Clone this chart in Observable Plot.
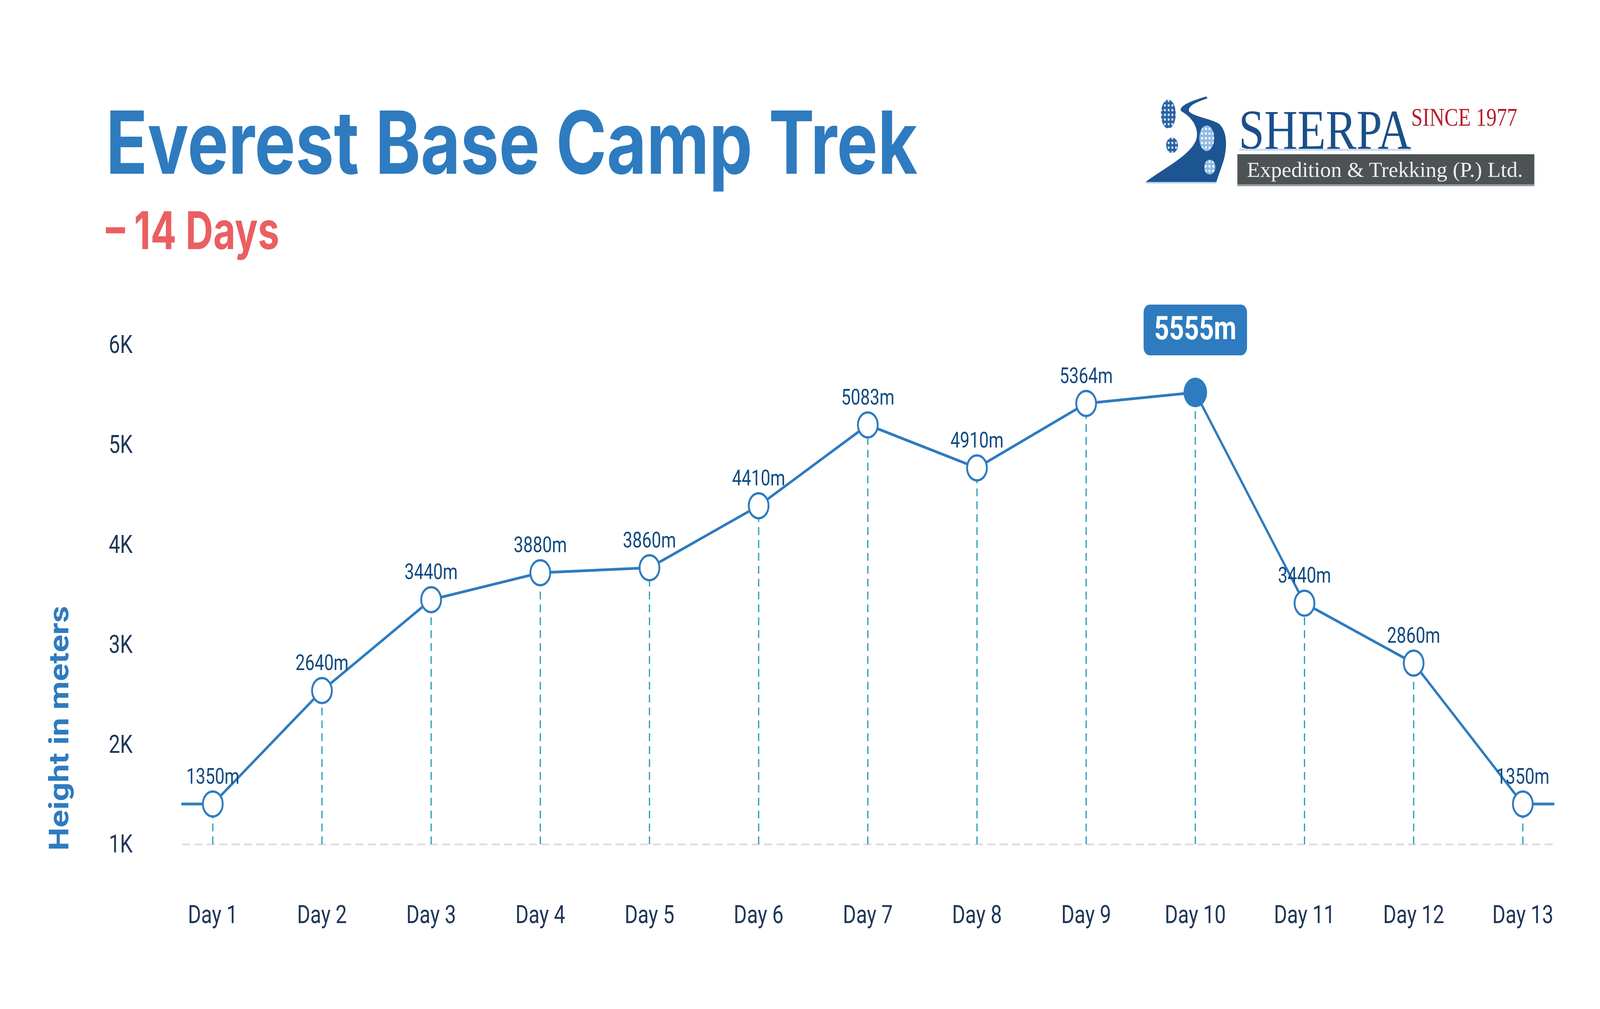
<!DOCTYPE html>
<html>
<head>
<meta charset="utf-8">
<script src="https://cdn.jsdelivr.net/npm/d3@7"></script>
<script src="https://cdn.jsdelivr.net/npm/@observablehq/plot@0.6"></script>
<style>
  html, body { margin: 0; padding: 0; background: #ffffff; overflow: hidden; }
  #page { width: 5167px; height: 2584px; position: relative; background: #ffffff; overflow: hidden; transform-origin: 0 0; }
  #header { display: block; }
  #chart svg { display: block; }
</style>
</head>
<body>
<div id="page">
  <svg id="header" width="5167" height="700" xmlns="http://www.w3.org/2000/svg">
    <defs>
      <pattern id="dotsLight" width="12" height="12" patternUnits="userSpaceOnUse">
        <rect width="12" height="12" fill="#2c63a3"/>
        <circle cx="6" cy="6" r="3.2" fill="#d6e6f6"/>
      </pattern>
      <pattern id="dotsRoad" width="12" height="12" patternUnits="userSpaceOnUse">
        <rect width="12" height="12" fill="#8fbbe6"/>
        <circle cx="6" cy="6" r="3.2" fill="#ffffff"/>
      </pattern>
    </defs>
    <text x="342" y="445" font-family="Inter, Roboto, sans-serif" font-weight="700" font-size="223" fill="#2e7bbf" textLength="2621" lengthAdjust="spacingAndGlyphs">Everest Base Camp Trek</text>
    <text x="342" y="638" font-family="Inter, Roboto, sans-serif" font-weight="700" font-size="133" fill="#ea5f62" textLength="560" lengthAdjust="spacingAndGlyphs">– 14 Days</text>
    <g id="logo">
      <rect x="3700" y="466" width="228" height="4" fill="#b9d3ee"/>
      <path d="M3700,466 C3760,430 3840,400 3862,360 C3875,330 3850,300 3815,285 C3805,275 3830,262 3896,247 L3899,252 C3860,262 3835,272 3840,285 C3852,298 3900,302 3935,316 C3966,336 3962,380 3952,410 L3928,466 Z" fill="#1d5592"/>
      <ellipse cx="3773" cy="292" rx="24" ry="37" fill="url(#dotsLight)"/>
      <ellipse cx="3785" cy="372" rx="19" ry="20" fill="url(#dotsLight)"/>
      <ellipse cx="3897" cy="354" rx="24" ry="33" fill="url(#dotsRoad)"/>
      <ellipse cx="3907" cy="428" rx="18" ry="19" fill="url(#dotsRoad)"/>
      <text x="4000" y="381" font-family="'Liberation Serif', 'DejaVu Serif', serif" font-size="144" fill="#1b4f8a" textLength="557" lengthAdjust="spacingAndGlyphs">SHERPA</text>
      <rect x="4002" y="381" width="555" height="5" fill="#c9dcef"/>
      <text x="4557" y="322" font-family="'Liberation Serif', 'DejaVu Serif', serif" font-size="66" fill="#b5202a" textLength="343" lengthAdjust="spacingAndGlyphs">SINCE 1977</text>
      <rect x="3996" y="395" width="959" height="81" fill="#4d5255"/>
      <rect x="3996" y="472" width="959" height="5" fill="#9a9ea1"/>
      <text x="4027" y="453" font-family="'Liberation Serif', 'DejaVu Serif', serif" font-size="54" fill="#eeeeee" textLength="891" lengthAdjust="spacingAndGlyphs">Expedition &amp; Trekking (P.) Ltd.</text>
    </g>
  </svg>
  <div id="chart"></div>
</div>
<script>
// ---- Data ----
const days = [1, 2, 3, 4, 5, 6, 7, 8, 9, 10, 11, 12, 13];
const dayLabels = ["Day 1", "Day 2", "Day 3", "Day 4", "Day 5", "Day 6", "Day 7",
                   "Day 8", "Day 9", "Day 10", "Day 11", "Day 12", "Day 13"];
// plotted heights (position of each point on the y scale)
const heights = [1405, 2540, 3450, 3720, 3770, 4390, 5200, 4770, 5415, 5525, 3415, 2815, 1405];
// altitude annotations printed above each point
const altitudeLabels = [1350, 2640, 3440, 3880, 3860, 4410, 5083, 4910, 5364, 5555, 3440, 2860, 1350];
const yTicks = [1000, 2000, 3000, 4000, 5000, 6000];
const yTickLabels = ["1K", "2K", "3K", "4K", "5K", "6K"];
const peakDay = 10;
const yAxisTitle = "Height in meters";
const xDomain = [0.72, 13.28];

// ---- Build table ----
const rows = days.map((d, i) => ({day: d, h: heights[i], alt: altitudeLabels[i]}));
const normalRows = rows.filter(r => r.day !== peakDay);
const peakRows = rows.filter(r => r.day === peakDay);
const lineRows = [{day: xDomain[0], h: heights[0]}, ...rows, {day: xDomain[1], h: heights[heights.length - 1]}];

const blue = "#2e7bbf";
const badgeSymbol = {
  draw(ctx) {
    const w = 167, h = 65, r = 20;
    ctx.moveTo(-w + r, -h);
    ctx.lineTo(w - r, -h);
    ctx.arcTo(w, -h, w, -h + r, r);
    ctx.lineTo(w, h - r);
    ctx.arcTo(w, h, w - r, h, r);
    ctx.lineTo(-w + r, h);
    ctx.arcTo(-w, h, -w, h - r, r);
    ctx.lineTo(-w, -h + r);
    ctx.arcTo(-w, -h, -w + r, -h, r);
    ctx.closePath();
  }
};

const chart = Plot.plot({
  width: 5167,
  height: 1884,
  marginTop: 183,
  marginBottom: 422,
  marginLeft: 588,
  marginRight: 151,
  style: {fontFamily: "Roboto, sans-serif", fontSize: "65px", color: "#1f3659", background: "#ffffff"},
  x: {domain: xDomain, ticks: days, tickFormat: d => dayLabels[days.indexOf(d)], tickSize: 0, tickPadding: 155, label: null},
  y: {domain: [yTicks[0], yTicks[yTicks.length - 1]], ticks: yTicks, tickFormat: d => yTickLabels[yTicks.indexOf(d)], tickSize: 0, tickPadding: 160, label: null},
  marks: [
    Plot.ruleY([yTicks[0]], {stroke: "#d9d9d9", strokeWidth: 4, strokeDasharray: "26,14"}),
    Plot.ruleX(rows, {x: "day", y1: () => yTicks[0], y2: "h", stroke: "#2b9fbd", strokeWidth: 4, strokeDasharray: "20,13"}),
    Plot.line(lineRows, {x: "day", y: "h", stroke: blue, strokeWidth: 7}),
    Plot.dot(normalRows, {x: "day", y: "h", r: 32, fill: "#ffffff", stroke: blue, strokeWidth: 6}),
    Plot.dot(peakRows, {x: "day", y: "h", r: 38, fill: blue}),
    Plot.text(normalRows, {x: "day", y: "h", text: d => `${d.alt}m`, dy: -70, fontSize: 55, fill: "#0f4a7f"}),
    Plot.dot(peakRows, {x: "day", y: "h", symbol: badgeSymbol, r: 10, fill: blue, dy: -160}),
    Plot.text(peakRows, {x: "day", y: "h", text: d => `${d.alt}m`, dy: -163, fontSize: 84, fontWeight: "bold", fill: "#ffffff"}),
    Plot.text([yAxisTitle], {frameAnchor: "bottom-left", text: d => d, rotate: -90, textAnchor: "start", dx: -368, dy: 16, fontSize: 88, fontWeight: "bold", fill: blue})
  ]
});
document.getElementById("chart").appendChild(chart);

// condense the rotated axis title to the reference's length
chart.querySelectorAll("text").forEach(t => {
  if (t.textContent === yAxisTitle) {
    t.setAttribute("textLength", "627");
    t.setAttribute("lengthAdjust", "spacingAndGlyphs");
  }
});

// fit the 5167×2584 design into the actual viewport
function fit() {
  const page = document.getElementById("page");
  const sx = window.innerWidth / 5167;
  const sy = window.innerHeight / 2584;
  page.style.transform = `scale(${sx}, ${sy})`;
}
fit();
window.addEventListener("resize", fit);
</script>
</body>
</html>
